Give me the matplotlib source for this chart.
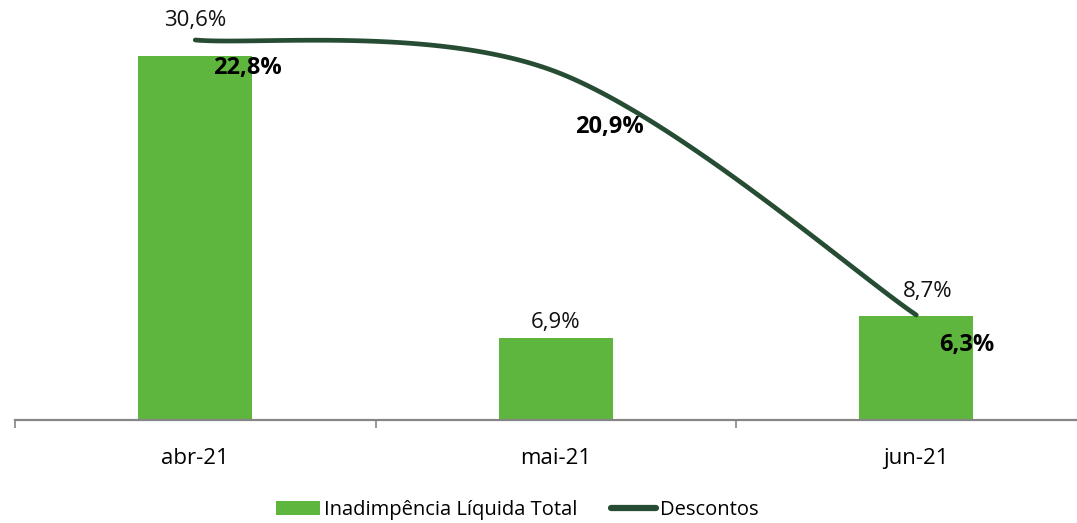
import matplotlib
matplotlib.use("Agg")
import matplotlib.pyplot as plt
import numpy as np
from matplotlib.lines import Line2D
from matplotlib.patches import Patch

categories = ["abr-21", "mai-21", "jun-21"]
inadimplencia = [30.6, 6.9, 8.7]
descontos = [22.8, 20.9, 6.3]

bar_color = "#5EB63E"
line_color = "#264D33"
axis_color = "#868686"

# label offsets in pixels (labels were hand-placed in the original)
bar_label_offsets = [(0, 35), (0, 15), (11, 25)]
line_label_offsets = [(52, -28), (54, -55), (51, -30)]

plt.rcParams["font.family"] = ["Open Sans", "DejaVu Sans"]


def fmt(v):
    return f"{v:.1f}%".replace(".", ",")


def smooth_path(xd, yd, n=60):
    # Excel-like smoothing: cubic Bezier with control points at 1/6 of neighbours
    pts = np.column_stack([xd, yd])
    out = [pts[0]]
    for i in range(len(pts) - 1):
        p0 = pts[max(i - 1, 0)]
        p1 = pts[i]
        p2 = pts[i + 1]
        p3 = pts[min(i + 2, len(pts) - 1)]
        c1 = p1 + (p2 - p0) / 6.0
        c2 = p2 - (p3 - p1) / 6.0
        t = np.linspace(0, 1, n)[1:, None]
        seg = ((1 - t) ** 3) * p1 + 3 * t * (1 - t) ** 2 * c1 + 3 * t ** 2 * (1 - t) * c2 + t ** 3 * p2
        out.extend(seg)
    return np.array(out)


W, H = 1077, 523
fig = plt.figure(figsize=(W / 100, H / 100), dpi=100)
ax = fig.add_axes([15 / W, 103 / H, 1081.5 / W, 420 / H])
ax2 = ax.twinx()

x = np.arange(len(categories))
ax.bar(x, inadimplencia, width=0.317, color=bar_color, zorder=2)
ax.set_xlim(-0.5, 2.5)
ax.set_ylim(0, 35.3)
ax2.set_ylim(0, 25.2)

for sp in ["top", "left", "right"]:
    ax.spines[sp].set_visible(False)
    ax2.spines[sp].set_visible(False)
ax2.spines["bottom"].set_visible(False)
ax.spines["bottom"].set_color(axis_color)
ax.spines["bottom"].set_linewidth(1.6)
ax.set_yticks([])
ax2.set_yticks([])

ax.set_xticks([-0.5, 0.5, 1.5, 2.5])
ax.set_xticklabels([])
ax.tick_params(axis="x", which="major", length=6, width=1.2, color=axis_color)
ax.set_xticks(x, minor=True)
ax.set_xticklabels(categories, minor=True, fontsize=16)
ax.tick_params(axis="x", which="minor", length=0, pad=20)

# smoothed line in display space
disp = ax2.transData.transform(np.column_stack([x, descontos]))
curve = smooth_path(disp[:, 0], disp[:, 1])
curve = ax2.transData.inverted().transform(curve)
ax2.plot(curve[:, 0], curve[:, 1], color=line_color, lw=3.4,
         solid_capstyle="round", zorder=3)

for xi, v, off in zip(x, inadimplencia, bar_label_offsets):
    ax.annotate(fmt(v), (xi, v), xytext=off, textcoords="offset pixels",
                ha="center", va="center", fontsize=16, color="#111111")

for xi, v, off in zip(x, descontos, line_label_offsets):
    ax2.annotate(fmt(v), (xi, v), xytext=off, textcoords="offset pixels",
                 ha="center", va="center", fontsize=17, fontweight="bold",
                 color="black", zorder=5)

handles = [
    Patch(facecolor=bar_color, edgecolor="none"),
    Line2D([], [], color=line_color, lw=4.5, solid_capstyle="round"),
]
fig.legend(handles, ["Inadimpência Líquida Total", "Descontos"],
           loc="center", bbox_to_anchor=(517 / W, 13 / H), ncol=2,
           frameon=False, fontsize=14.5, handlelength=2.2, handleheight=0.75,
           handletextpad=0.2, columnspacing=1.7, borderaxespad=0)

fig.savefig("out.png", dpi=100)
